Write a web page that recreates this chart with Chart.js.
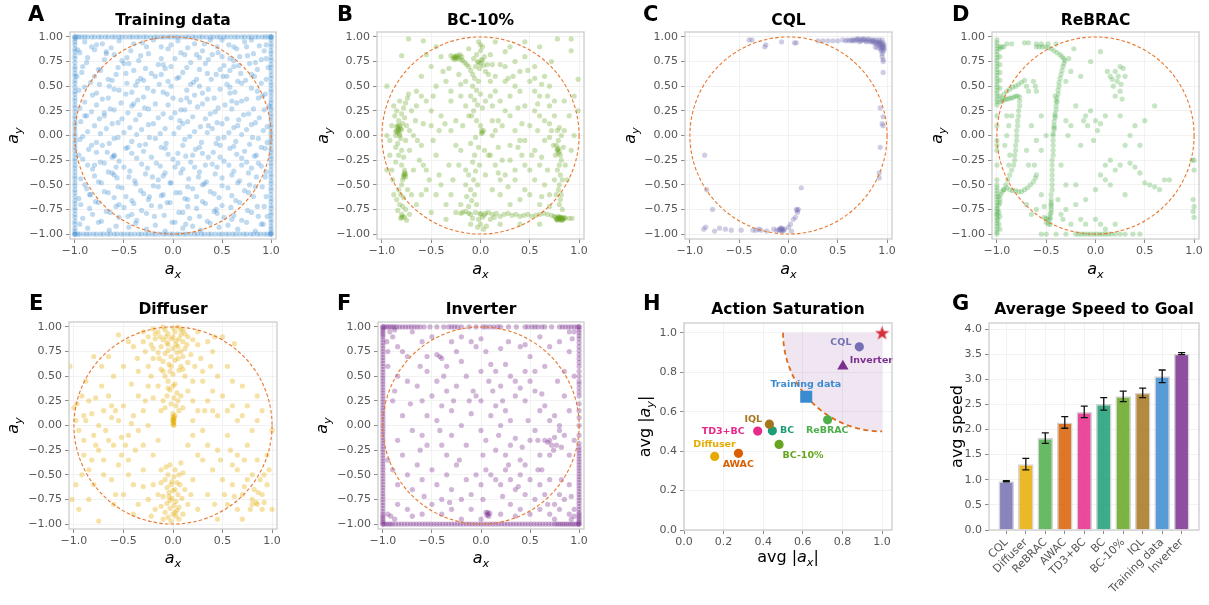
<!DOCTYPE html>
<html><head><meta charset="utf-8">
<script src="https://cdn.jsdelivr.net/npm/chart.js@4.4.1/dist/chart.umd.min.js"></script>
<style>
html,body{margin:0;padding:0;background:#fff;}
#wrap{position:relative;width:1209px;height:605px;overflow:hidden;background:#fff;}
#wrap canvas{position:absolute;left:0;top:0;}
</style></head><body><div id="wrap"></div>
<script>
// ---------------- DATA ----------------
// Panel A: Training data (flat x,y pairs) + saturated edges
const trainInterior = [-.9,.95,-.72,.93,-.55,.96,-.31,.94,-.12,.9,.05,.96,.22,.93,.38,.97,.57,.92,.73,.95,.88,.91,
-.95,.84,-.8,.87,-.6,.82,-.43,.86,-.25,.83,-.05,.88,.12,.82,.3,.86,.46,.84,.65,.88,.82,.83,.93,.86,
-.88,.74,-.7,.77,-.5,.73,-.35,.76,-.15,.72,.02,.78,.18,.74,.36,.77,.52,.71,.62,.76,.78,.73,.95,.78,
-.93,.64,-.76,.67,-.58,.62,-.4,.66,-.22,.63,-.08,.68,.1,.64,.27,.67,.44,.62,.58,.66,.69,.63,.86,.67,
-.84,.54,-.66,.57,-.47,.53,-.3,.56,-.14,.52,.04,.58,.21,.54,.39,.57,.55,.52,.74,.56,.9,.53,
-.96,.46,-.78,.43,-.6,.47,-.42,.44,-.26,.48,-.06,.42,.14,.46,.3,.43,.48,.47,.63,.44,.8,.48,.94,.42,
-.9,.34,-.72,.37,-.53,.33,-.36,.36,-.18,.32,0,.38,.17,.34,.35,.37,.53,.31,.7,.35,.87,.38,
-.83,.24,-.64,.27,-.46,.23,-.29,.28,-.1,.22,.08,.26,.25,.29,.43,.24,.6,.27,.77,.22,.93,.26,
-.94,.14,-.75,.17,-.56,.13,-.38,.16,-.2,.12,-.02,.18,.15,.14,.33,.17,.5,.12,.67,.16,.84,.13,
-.87,.04,-.68,.07,-.5,.03,-.32,.06,-.13,.02,.06,.08,.22,.04,.4,.07,.57,.03,.75,.06,.92,.05,
-.95,-.04,-.78,-.07,-.6,-.03,-.42,-.06,-.24,-.02,-.07,-.08,.12,-.04,.29,-.07,.46,-.03,.64,-.06,.81,-.02,.96,-.07,
-.86,-.14,-.67,-.17,-.48,-.13,-.3,-.16,-.12,-.12,.05,-.18,.23,-.14,.41,-.17,.58,-.13,.73,-.16,.9,-.12,
-.92,-.24,-.74,-.27,-.62,-.22,-.55,-.26,-.37,-.23,-.17,-.28,0,-.24,.18,-.27,.36,-.22,.52,-.26,.7,-.23,.87,-.28,
-.82,-.34,-.66,-.37,-.58,-.32,-.44,-.36,-.26,-.33,-.08,-.38,.1,-.34,.27,-.37,.45,-.32,.62,-.36,.8,-.33,.95,-.37,
-.94,-.44,-.76,-.47,-.57,-.43,-.39,-.46,-.21,-.42,-.03,-.48,.16,-.44,.34,-.47,.5,-.43,.68,-.46,.85,-.42,
-.88,-.54,-.7,-.57,-.52,-.53,-.33,-.56,-.15,-.52,.03,-.58,.2,-.54,.38,-.57,.56,-.53,.73,-.56,.91,-.52,
-.96,-.64,-.79,-.67,-.6,-.63,-.42,-.66,-.24,-.62,-.06,-.68,.12,-.64,.3,-.67,.47,-.63,.64,-.66,.82,-.62,
-.85,-.74,-.68,-.77,-.5,-.73,-.32,-.76,-.13,-.72,.06,-.78,.24,-.74,.42,-.77,.59,-.73,.76,-.76,.93,-.72,
-.92,-.84,-.73,-.87,-.55,-.83,-.37,-.86,-.19,-.82,-.01,-.88,.17,-.84,.35,-.87,.52,-.83,.7,-.86,.87,-.82,
-.87,-.94,-.65,-.96,-.45,-.93,-.27,-.95,-.08,-.97,.1,-.94,.28,-.96,.47,-.93,.66,-.95,.84,-.97,
-.83,.9,-.47,.79,-.02,.7,.45,.9,.68,.8,-.65,.5,-.18,.6,.27,.5,.83,.6,-.9,.2,-.42,.3,.07,.15,.6,.35,-.72,-.1,
-.34,-.1,.2,-.2,.7,-.3,.98,.3,-.6,-.4,-.1,-.6,.3,-.5,.78,-.5,-.42,-.8,.13,-.9,.6,-.85,.9,-.9,-.98,.6,.55,.6,
-.27,.9,.14,.38,-.55,-.7,.44,-.75,-.8,-.3,.24,.82,-.36,.55,.66,.1,.33,-.3,-.7,.2,.5,.8,-.15,-.45,.02,-.32,
.62,.7,-.6,-.2,.85,-.2,-.05,.55,.36,.1,-.25,-.65,.75,.9,-.68,.85,.15,-.65,.48,-.1,-.85,-.6];
const trainInterior2 = [-.97,.87,-.78,.92,-.63,.89,-.4,.93,-.2,.97,-.02,.92,.15,.89,.32,.93,.5,.97,.62,.9,.8,.97,.95,.92,
-.87,.79,-.68,.83,-.52,.76,-.33,.81,-.12,.78,.08,.84,.27,.79,.4,.82,.58,.78,.76,.81,.9,.77,
-.92,.7,-.74,.66,-.56,.69,-.45,.73,-.28,.68,-.1,.72,.14,.69,.33,.73,.48,.67,.67,.71,.84,.74,.97,.69,
-.8,.6,-.62,.56,-.48,.63,-.33,.58,-.12,.62,.06,.59,.24,.57,.35,.63,.51,.6,.66,.55,.8,.62,.95,.57,
-.9,.49,-.75,.52,-.55,.46,-.38,.51,-.2,.45,-.02,.5,.18,.52,.36,.47,.58,.49,.7,.53,.86,.45,
-.82,.41,-.66,.38,-.48,.42,-.3,.39,-.1,.44,.08,.36,.22,.41,.42,.38,.58,.43,.75,.37,.91,.4,
-.95,.28,-.78,.31,-.6,.26,-.4,.32,-.25,.27,-.05,.31,.12,.26,.3,.32,.46,.28,.65,.33,.82,.27,
-.88,.2,-.7,.23,-.52,.17,-.34,.21,-.15,.18,.02,.23,.2,.19,.38,.22,.55,.17,.72,.21,.88,.18,
-.8,.1,-.62,.12,-.44,.08,-.25,.11,-.08,.07,.1,.12,.28,.09,.45,.13,.62,.08,.8,.11,.96,.09,
-.92,-.01,-.74,.02,-.56,-.02,-.37,.01,-.18,-.03,.01,.02,.17,-.01,.35,.03,.52,-.02,.7,.01,.87,-.03,
-.83,-.1,-.65,-.08,-.46,-.12,-.28,-.09,-.08,-.13,.1,-.1,.27,-.12,.44,-.08,.62,-.11,.78,-.09,.94,-.13,
-.96,-.2,-.78,-.17,-.6,-.21,-.42,-.18,-.22,-.22,-.05,-.19,.13,-.21,.3,-.18,.48,-.22,.65,-.19,.83,-.21,
-.87,-.3,-.7,-.28,-.5,-.32,-.32,-.29,-.13,-.31,.05,-.28,.22,-.32,.4,-.29,.57,-.3,.75,-.27,.9,-.31,
-.8,-.41,-.62,-.38,-.45,-.42,-.28,-.39,-.1,-.41,.08,-.38,.26,-.42,.43,-.39,.6,-.4,.77,-.38,.94,-.42,
-.9,-.5,-.73,-.48,-.56,-.52,-.38,-.49,-.2,-.51,-.02,-.48,.15,-.52,.32,-.49,.5,-.51,.66,-.48,.84,-.52,
-.84,-.6,-.66,-.58,-.48,-.62,-.3,-.59,-.12,-.61,.07,-.58,.24,-.62,.42,-.59,.6,-.61,.77,-.58,.95,-.62,
-.94,-.7,-.76,-.68,-.58,-.72,-.4,-.69,-.22,-.71,-.03,-.68,.15,-.72,.33,-.69,.5,-.71,.68,-.68,.86,-.72,
-.82,-.8,-.64,-.78,-.46,-.82,-.27,-.79,-.09,-.81,.1,-.78,.27,-.82,.45,-.79,.62,-.81,.8,-.78,.96,-.82,
-.95,-.9,-.76,-.88,-.58,-.92,-.38,-.89,-.18,-.91,.02,-.88,.2,-.92,.38,-.89,.56,-.91,.75,-.88,.92,-.9];
const trainTopX = [-1,-.98,-.96,-.93,-.9,-.87,-.83,-.8,-.76,-.73,-.69,-.66,-.62,-.59,-.55,-.52,-.48,-.44,-.41,-.37,-.34,-.3,-.27,-.23,-.19,-.16,-.12,-.09,-.05,-.02,.02,.05,.09,.13,.16,.2,.23,.27,.3,.34,.38,.41,.45,.48,.52,.55,.59,.63,.66,.7,.73,.77,.8,.84,.87,.91,.94,.97,1,1];
const trainBottomX = [-1,-1,-.97,-.95,-.91,-.88,-.85,-.81,-.78,-.74,-.71,-.67,-.64,-.6,-.57,-.53,-.5,-.46,-.43,-.39,-.35,-.32,-.28,-.25,-.21,-.18,-.14,-.1,-.07,-.03,0,.04,.07,.11,.14,.18,.22,.25,.29,.32,.36,.39,.43,.47,.5,.54,.57,.61,.64,.68,.72,.75,.79,.82,.86,.89,.93,.96,.99,1];
const trainLeftY = [-1,-.97,-.94,-.9,-.87,-.83,-.8,-.76,-.73,-.69,-.66,-.62,-.58,-.55,-.51,-.48,-.44,-.41,-.37,-.33,-.3,-.26,-.23,-.19,-.15,-.12,-.08,-.05,-.01,.02,.06,.1,.13,.17,.2,.24,.28,.31,.35,.38,.42,.45,.49,.53,.56,.6,.63,.67,.7,.74,.78,.81,.85,.88,.92,.95,.98,1];
const trainRightY = [-1,-.98,-.95,-.92,-.88,-.85,-.81,-.78,-.74,-.71,-.67,-.64,-.6,-.56,-.53,-.49,-.46,-.42,-.39,-.35,-.31,-.28,-.24,-.21,-.17,-.14,-.1,-.06,-.03,.01,.04,.08,.11,.15,.19,.22,.26,.29,.33,.36,.4,.44,.47,.51,.54,.58,.61,.65,.69,.72,.76,.79,.83,.86,.9,.93,.97,1];

// Panel B: BC-10%
const bc10Points = [-.85,.05,-.83,.08,-.82,.02,-.8,.06,-.84,.1,-.86,0,-.81,-.03,-.79,.12,-.83,.15,-.87,.2,-.8,.22,-.78,.28,-.76,.33,-.74,.38,-.73,.42,
-.85,.25,-.88,.3,-.82,.35,-.77,.18,-.75,.1,-.72,.05,-.76,-.05,-.84,-.08,-.86,-.12,-.8,-.15,-.83,-.2,-.78,-.22,-.86,-.27,-.8,-.3,-.77,-.35,
-.78,-.4,-.76,-.42,-.77,-.38,-.79,-.45,-.8,-.5,-.83,-.55,-.81,-.6,-.78,-.63,-.85,-.65,-.82,-.7,-.79,-.72,-.76,-.75,-.84,-.76,-.8,-.8,-.79,-.82,
-.81,-.84,-.77,-.83,-.75,-.86,-.9,-.35,-.88,-.6,-.7,-.6,-.72,-.15,-.68,0,-.9,.1,-.92,-.05,-.7,.25,-.66,.15,-.64,-.05,-.89,-.45,-.74,-.55,-.72,-.8,
-.83,.05,-.81,.07,-.84,.03,-.82,0,-.85,.09,-.83,.06,-.86,.04,-.82,.1,-.77,-.4,-.78,-.42,-.76,-.39,-.8,-.83,
-.27,.8,-.25,.79,-.23,.78,-.26,.77,-.24,.81,-.28,.78,-.22,.8,-.2,.77,-.18,.76,-.3,.81,-.21,.82,-.19,.8,-.16,.74,-.14,.72,-.25,.8,-.26,.79,
-.03,.75,0,.73,.02,.76,-.05,.7,-.01,.68,.03,.71,.05,.65,-.07,.78,-.04,.82,0,.86,.02,.9,-.02,.95,0,.92,.04,.8,-.1,.66,-.08,.62,-.12,.7,.07,.72,-.02,.74,.01,.77,
-.06,.58,-.02,.55,-.08,.5,-.04,.46,0,.42,-.1,.4,-.06,.36,-.03,.31,.02,.28,-.07,.25,-.09,.2,-.04,.15,0,.1,.03,.05,.01,.02,-.05,-.02,-.1,-.08,-.02,-.12,
.04,-.15,-.06,-.2,-.08,-.27,-.01,-.3,-.05,-.36,-.12,-.4,-.07,-.45,-.03,-.5,-.1,-.55,-.06,-.6,-.14,-.62,-.09,-.66,-.04,-.7,-.12,-.72,-.15,-.5,.05,-.4,
.08,-.2,.1,.4,.15,.45,.12,.3,-.15,.3,-.2,.4,-.18,.1,.12,0,.18,.15,-.22,-.3,.2,-.45,.01,.05,.02,.03,
-.25,-.78,-.2,-.79,-.15,-.77,-.1,-.8,-.05,-.78,0,-.79,.04,-.81,.08,-.78,.12,-.8,.16,-.79,.2,-.82,.24,-.8,.28,-.79,.32,-.81,.36,-.8,.4,-.82,.44,-.81,
.48,-.8,.52,-.82,.56,-.81,.6,-.8,.64,-.79,.68,-.8,.72,-.81,.02,-.83,-.08,-.84,.1,-.85,.14,-.83,-.02,-.85,0,-.9,.03,-.95,-.03,-.93,.06,-.92,-.1,-.9,
-.18,-.78,-.12,-.79,0,-.8,.05,-.79,
.76,-.83,.78,-.84,.8,-.85,.82,-.84,.84,-.85,.79,-.82,.81,-.83,.83,-.86,.77,-.85,.85,-.83,.8,-.84,.82,-.86,.78,-.86,.86,-.84,.75,-.82,.9,-.84,.93,-.84,
.79,-.84,.81,-.85,.83,-.84,.8,-.83,.84,-.84,.78,-.85,.82,-.83,
.8,.08,.78,.05,.82,0,.79,-.05,.77,-.1,.78,-.14,.8,-.16,.79,-.18,.81,-.2,.82,-.25,.8,-.3,.78,-.35,.81,-.4,.83,-.45,.8,-.5,.79,-.55,.82,-.6,.81,-.65,
.8,-.7,.83,-.75,.76,-.2,.74,-.1,.85,.05,.84,-.12,.86,-.3,.75,-.45,.77,-.6,.72,.05,.7,-.02,.78,-.15,.79,-.13,
-.73,.98,-.8,.81,-.58,.96,-.95,.5,.78,.98,.92,.98,.92,.86,.99,.57,.99,.25,-.95,-.35,
-.6,.6,-.5,.7,-.45,.5,-.55,.35,-.4,.2,-.5,.1,-.6,-.1,-.45,-.2,-.55,-.35,-.4,-.5,-.6,-.6,-.35,-.7,-.5,-.78,-.3,-.6,-.35,.55,-.3,.35,-.3,.05,-.25,-.1,
-.32,-.3,.3,.9,.35,.75,.25,.7,.45,.8,.55,.7,.65,.6,.5,.55,.4,.45,.3,.4,.25,.25,.45,.3,.55,.25,.6,.4,.7,.3,.75,.2,.65,.15,.5,.1,.35,.05,.3,-.1,
.45,-.05,.55,-.15,.6,-.3,.45,-.3,.35,-.45,.55,-.45,.65,-.5,.5,-.6,.4,-.65,.3,-.7,.6,-.7,.7,-.6,.65,-.05,.2,-.6,.15,-.3,.25,.55,.15,.6,-.15,.55,
-.4,.8,-.45,.9,.15,.95,.45,.95,.6,.9,.7,.5,.85,.35,.9,.2,.95,0,.92,-.15,.88,-.45,.95,.4,-.95,0,-.92,-.2,-.6,.4,-.65,.3,-.2,-.7,-.35,-.85,.2,-.9,
.4,-.9,.6,-.9,-.5,.25,-.15,-.35,.22,.1,.3,.2,-.25,.15,.1,.55,.12,-.55,.25,-.4,.4,.65,.55,.45,.62,-.22,-.58,.12,-.42,-.4,-.62,-.25,-.22,.62,.33,.6,.72,.75,
-.36,.12,-.48,-.05,.18,-.12,.38,.28,.42,-.2,.58,.05,.68,-.35,.5,-.35,-.38,.65,.08,.62,.2,.72,-.12,.2,.12,.15,
-.55,.82,-.32,.68,-.12,.88,.1,.82,.28,.58,.48,.66,.62,.52,.42,.12,.52,-.2,.38,-.12,.62,-.62,.7,-.72,.45,-.55,.28,-.52,.18,-.38,.1,-.2,.22,-.25,
-.2,-.15,-.28,-.45,-.45,-.6,-.52,-.45,-.65,-.7,-.55,-.55,-.65,.45,-.48,.4,-.42,.05,-.68,-.35,-.58,-.3,.3,-.25,.35,-.35,.4,-.05,.2,.35,.35,.5,
.58,.32,.68,.4,.75,.35,.7,.12,.6,.2,.55,.58,-.2,.52,-.3,.45,.12,.72,.25,.85,.05,.35,.15,.05];

// Panel C: CQL
const cqlPoints = [.55,.97,.58,.96,.6,.97,.62,.96,.64,.97,.66,.97,.68,.96,.7,.97,.71,.98,.73,.97,.74,.96,.76,.97,.77,.98,.78,.96,.8,.97,.81,.98,.82,.96,
.84,.97,.85,.95,.86,.96,.87,.94,.88,.95,.89,.93,.9,.95,.91,.92,.92,.94,.93,.91,.94,.93,.95,.9,.95,.88,.96,.91,.94,.86,.96,.85,.95,.83,.97,.92,.96,.94,
.93,.95,.95,.8,.96,.77,.96,.75,.95,.97,.92,.97,.89,.97,.72,.95,.79,.95,.83,.95,.88,.9,.9,.89,.93,.88,.97,.89,.97,.87,.94,.9,.95,.92,.93,.93,.96,.89,
.91,.94,.86,.97,.75,.98,.65,.96,.69,.98,.96,.64,.93,.28,.96,.19,.95,.12,.96,.1,.93,-.12,.92,-.38,.92,-.43,
-.4,.97,-.37,.97,-.24,.9,-.23,.92,-.07,.95,.06,.94,.08,.94,.3,.96,.35,.96,.4,.96,.45,.96,.5,.96,
-.85,-.2,-.83,-.55,-.77,-.75,-.86,-.95,-.84,-.93,-.75,-.97,-.7,-.94,-.64,-.95,-.58,-.96,-.48,-.96,-.36,-.96,-.33,-.96,-.28,-.96,-.22,-.97,-.15,-.95,
-.09,-.95,-.08,-.96,-.07,-.94,-.06,-.95,-.05,-.96,-.08,-.94,-.06,-.97,-.1,-.96,-.04,-.95,-.07,-.96,0,-.93,.02,-.9,.05,-.85,.07,-.83,.09,-.78,.1,-.75,
.08,-.75,.09,-.76,.13,-.53,.03,-.97,-.12,-.96,-.3,-.95];

// Panel D: ReBRAC
const rebracPoints = [-1,.97,-1,.94,-1,.91,-1,.88,-1,.85,-1,.82,-1,.79,-1,.76,-1,.73,-1,.7,-1,.67,-1,.64,-1,.61,-1,.58,-1,.55,-1,.52,-1,.49,-1,.46,
-1,.43,-1,.4,-1,.37,-1,.34,-1,.31,-1,.2,-1,.1,-1,-.05,-1,-.1,-1,-.15,-1,-.3,-1,-.45,-1,-.5,-1,-.53,-1,-.56,-1,-.59,-1,-.62,-1,-.65,-1,-.68,
-1,-.71,-1,-.74,-1,-.77,-1,-.8,-1,-.83,-1,-.86,-1,-.89,-1,-.92,-1,-.95,-1,-.98,-1,-1,
-.97,.88,-.97,.8,-.97,.72,-.97,.64,-.97,.56,-.97,.48,-.97,.4,-.97,.9,-.95,.9,-.93,.9,-.9,.93,-.85,.93,-.72,.94,-.68,.94,-.6,.93,-.55,.93,-.48,.93,-.4,.93,
-.6,.9,-.57,.9,-.54,.9,-.51,.9,-.48,.89,-.45,.88,-.42,.86,-.39,.84,-.36,.82,-.34,.8,-.32,.78,-.31,.76,-.32,.73,-.33,.7,-.34,.66,-.35,.62,-.36,.58,
-.37,.54,-.37,.5,-.38,.46,-.38,.42,-.39,.38,-.39,.34,-.4,.3,-.4,.26,-.41,.22,-.41,.18,-.42,.14,-.42,.1,-.42,.06,-.43,.02,-.43,0,-.43,-.05,-.43,-.1,
-.43,-.15,-.43,-.2,-.44,-.25,-.44,-.3,-.44,-.35,-.44,-.4,-.44,-.45,-.44,-.5,-.44,-.55,-.45,-.6,-.45,-.65,-.45,-.7,-.45,-.75,-.46,-.8,-.46,-.85,-.46,-.9,
-.45,-.68,-.45,-.72,-.45,-.78,-.46,-.83,-.48,-.85,-.5,-.84,-.52,-.83,-.5,-.88,-.48,-.9,-.41,.4,-.4,.35,-.41,.2,-.42,.08,
-.97,.34,-.95,.35,-.93,.36,-.91,.37,-.89,.37,-.87,.38,-.85,.38,-.83,.39,-.81,.4,-.79,.4,-.77,.39,-.77,.35,-.77,.3,-.78,.25,-.78,.2,-.79,.15,
-.79,.1,-.8,.05,-.8,0,-.8,-.05,-.81,-.1,-.81,-.15,-.82,-.2,-.82,-.25,-.83,-.3,-.85,-.35,-.87,-.4,-.89,-.45,-.91,-.5,-.93,-.55,
-.95,.38,-.93,.42,-.9,.45,-.87,.47,-.84,.49,-.81,.5,-.78,.52,-.75,.54,-.72,.56,-.7,.5,-.68,.45,-.63,.55,-.61,.5,-.6,.45,
-1,-.8,-.99,-.75,-.98,-.7,-.97,-.65,-.96,-.6,-.95,-.57,-.93,-.55,-.9,-.53,-.87,-.55,-.84,-.56,-.81,-.56,-.78,-.57,-.75,-.57,-.72,-.55,-.69,-.53,
-.66,-.5,-.63,-.47,-.61,-.43,-.6,-.4,-.99,-.85,-.98,-.9,-.97,-.95,-.98,-.62,-.97,-.68,-.98,-.78,-.97,-.82,
-.55,-1,-.5,-1,-.4,-1,-.3,-1,-.2,-1,-.17,-1,-.14,-1,-.11,-1,-.08,-1,-.05,-1,-.02,-1,.01,-1,.04,-1,.07,-1,.1,-1,.13,-1,.16,-1,.2,-1,.25,-1,.3,-1,.38,-1,.45,-1,
.15,.6,.2,.65,.25,.7,.28,.68,.22,.55,.18,.5,.25,.45,.2,.4,.27,.37,.3,.6,.12,.65,.05,.85,-.05,.75,-.15,.6,-.1,.2,-.05,.25,0,.15,.05,.12,-.08,.1,
-.12,.15,.1,.2,.02,.05,-.2,.3,-.25,.1,-.15,-.1,-.02,-.05,.1,-.3,.15,-.25,.2,-.35,.05,-.4,.1,-.45,.15,-.5,.25,-.3,.35,-.28,.4,-.32,.45,-.38,.5,-.48,
.55,-.5,.6,-.52,.65,-.55,.7,-.45,.75,-.45,.3,-.6,0,-.55,-.1,-.65,-.2,-.7,-.3,-.75,-.35,-.8,-.15,-.85,-.1,-.9,0,-.85,.05,-.9,.1,-.95,.2,-.9,-.25,-.9,
.98,-.25,1,-.35,1,-.25,.99,-.65,1,-.72,.99,-.77,1,-.83,-.55,-.15,-.6,-.05,-.65,.1,-.55,.2,-.5,0,-.62,-.3,-.55,-.6,-.52,-.72,-.6,-.75,-.65,-.8,-.7,-.7,
-.7,-.15,-.68,-.3,-.9,0,-.92,-.1,-.88,.1,-.9,.2,-.85,.2,-.87,-.2,-.88,-.3,-.3,.15,-.28,0,-.35,-.3,-.3,-.5,-.38,-.65,-.33,-.85,-.22,.88,-.27,.78,
-.25,.65,-.3,.55,-.2,-.5,.35,0,.4,.1,.25,.2,.6,.3,.5,.15,.45,-.1,.3,-.1,.23,.6,.17,.57,.26,.52];

// Panel E: Diffuser
const diffuserPoints = [-.2,.98,-.1,1,0,.99,.05,1,.1,.97,-.15,.95,-.05,.93,.02,.95,.08,.92,.15,.9,-.25,.9,-.18,.88,-.1,.87,-.02,.88,.03,.86,.1,.85,.2,.87,
-.3,.85,-.22,.82,-.12,.8,-.05,.82,0,.78,.05,.8,.12,.78,.25,.82,-.28,.75,-.15,.74,-.08,.73,-.02,.7,.04,.74,.1,.7,.18,.72,-.2,.68,-.1,.65,-.04,.62,
.02,.66,.08,.6,.15,.64,-.25,.6,-.12,.57,-.03,.55,0,.52,.06,.56,-.08,.5,.12,.5,-.35,.55,.3,.55,-.3,.95,.25,.95,.35,.85,-.4,.8,.4,.75,.28,.68,-.36,.68,
-.05,.45,.02,.42,0,.4,-.03,.36,.04,.33,-.06,.3,.01,.28,.05,.25,-.02,.22,.03,.2,-.08,.18,.06,.15,0,.12,.02,.1,.01,.08,0,.06,.01,.04,0,.02,.01,0,0,.05,
.01,.07,0,.09,.005,.03,.005,.01,.005,.06,-.15,.4,.15,.35,-.2,.28,.2,.25,-.12,.15,.1,.18,-.06,.84,0,.9,.06,.88,-.13,.9,.12,.93,-.08,.97,.03,.82,
-.03,-.4,.02,-.45,-.05,-.5,.01,-.52,-.08,-.55,.04,-.58,-.02,-.6,-.06,-.63,.02,-.65,-.04,-.68,.05,-.7,-.1,-.72,-.01,-.74,.03,-.77,-.06,-.79,.01,-.81,
-.03,-.84,.04,-.86,-.08,-.88,0,-.9,-.05,-.93,.06,-.95,-.02,-.97,-.15,-.7,.12,-.65,-.2,-.6,.15,-.8,-.18,-.85,.1,-.9,-.25,-.75,.2,-.55,-.12,-.45,.1,-.48,
.08,-.38,-.01,-.57,0,-.66,-.03,-.76,.02,-.88,
-1.04,.6,-1,.18,-.98,.05,-.95,-.05,-.9,.1,-.85,.25,-.8,-.1,-.75,0,-.7,.15,-.65,.3,-.6,-.2,-.55,.05,-.5,.2,-.45,-.1,-.4,.1,-.35,.3,-.3,-.2,-.25,0,
-.9,-.3,-.85,-.45,-.8,-.6,-.75,-.25,-.7,-.35,-.62,-.55,-.55,-.4,-.5,-.7,-.45,-.35,-.4,-.6,-.35,-.8,-.3,-.45,-.98,-.6,-1.02,-.75,-.95,-.85,-.75,-.97,
-.6,-.8,-.92,.3,-.72,.4,-.6,.5,-.5,.6,-.45,.85,-.55,.92,-.8,.7,-.65,.7,-.25,.4,-.3,.15,-.2,-.3,-.15,-.15,-.9,-.15,-.68,-.05,-.82,.12,-.58,.15,-.48,-.2,
-.38,-.25,-.28,.25,-.35,-.05,-.97,.22,-.88,.05,-.78,.28,-.62,.08,-.52,-.12,-.42,.02,
.2,.05,.3,-.05,.4,.15,.5,.3,.6,.2,.7,.1,.8,-.05,.9,.15,1,-.05,.35,-.2,.45,-.25,.55,-.1,.65,-.3,.75,-.2,.85,-.35,.95,-.3,.3,-.35,.4,-.45,.5,-.55,
.6,-.6,.7,-.7,.8,-.75,.85,-.8,.9,-.85,.95,-.6,1,-.85,.82,-.65,.9,-.7,.75,-.55,.65,-.85,.55,-.8,.45,-.95,.35,-.7,.25,-.3,.3,.45,.45,.5,.55,.6,.62,.83,
.5,.9,.4,.35,.6,.45,.7,.4,.75,.2,.85,.3,.25,.15,.35,.25,.15,-.2,.2,-.1,.88,-.55,.78,-.85,.7,-.95,.97,-.45,.6,-.4,.8,-.8,.84,-.78,.92,-.78,.86,-.68,
-.18,.93,.08,.97,-.07,.9,.14,.82,-.2,.78,-.05,.76,.08,.75,-.14,.68,.05,.68,-.02,.6,.1,.57,-.1,.55,-.22,.5,.2,.45,-.05,.38,.08,.3,-.1,.25,
-.07,-.42,.06,-.5,-.12,-.58,.07,-.6,-.04,-.72,.09,-.74,-.12,-.82,.06,-.83,-.1,-.95,.03,-.92,-.22,-.92,.18,-.7,-.3,-.62,.25,-.85,
-.72,.6,-.88,.45,-.62,.2,-.42,.42,-.78,-.2,-.52,-.3,-.65,-.15,-.82,-.35,-.7,-.5,-.45,-.5,-.92,-.5,-.58,-.7,-.85,-.75,-.4,-.9,
.45,.1,.55,.15,.65,.05,.85,.05,.48,-.35,.58,-.25,.72,-.35,.8,-.5,.92,-.5,.65,-.45,.52,-.7,.42,-.8,.62,-.72,.72,-.62,.38,.6,.22,.6,.42,.9,.32,.15];

// Panel F: Inverter
const inverterInterior = [-.9,.9,-.85,.8,-.7,.95,-.6,.85,-.5,.9,-.45,.72,-.42,.7,-.4,.68,-.35,.6,-.3,.85,-.2,.9,-.1,.85,-.05,.8,.05,.75,.1,.62,.15,.55,
.2,.78,.25,.62,.3,.5,.35,.45,.4,.38,.45,.55,.5,.7,.6,.9,.7,.8,.8,.85,.9,.75,.95,.95,
-.95,.6,-.85,.5,-.75,.45,-.65,.4,-.55,.55,-.5,.3,-.45,.45,-.4,.2,-.35,.35,-.25,.4,-.15,.5,-.08,.35,-.05,.3,0,.25,.1,.1,.15,.2,.2,0,.25,.15,.3,.05,
.35,.3,.45,.25,.55,.35,.6,.15,.65,.2,.7,.05,.75,.1,.8,0,.85,.3,.9,.15,
-.9,.25,-.8,.1,-.7,-.05,-.6,-.1,-.55,.1,-.45,.05,-.4,-.2,-.35,-.3,-.3,-.1,-.2,0,-.15,-.2,-.1,.12,0,-.05,.05,-.15,.15,-.25,.25,-.3,.3,-.2,.35,-.13,
.4,-.35,.5,-.15,.55,-.05,.65,-.15,.68,-.17,.7,-.15,.72,-.2,.74,-.25,.7,-.3,.75,-.12,.8,-.05,.77,-.2,.85,-.1,.9,-.3,
-.95,-.35,-.9,-.45,-.8,-.3,-.75,-.5,-.7,-.65,-.65,-.4,-.6,-.55,-.5,-.45,-.45,-.6,-.4,-.75,-.35,-.5,-.3,-.65,-.25,-.4,-.2,-.75,-.15,-.55,-.1,-.7,
-.05,-.5,0,-.6,.05,-.45,.1,-.5,.15,-.55,.2,-.6,.25,-.45,.3,-.55,.35,-.65,.4,-.5,.45,-.7,.5,-.55,.55,-.75,.6,-.6,.65,-.7,.7,-.55,.75,-.8,.8,-.7,
.85,-.75,.9,-.6,.95,-.85,
-.85,-.8,-.75,-.85,-.6,-.9,-.5,-.8,-.4,-.9,-.3,-.85,-.2,-.95,-.1,-.85,0,-.95,.05,-.88,.07,-.9,.08,-.92,.06,-.91,.09,-.89,.07,-.88,.2,-.9,.3,-.8,.4,-.85,
.5,-.9,.6,-.85,.7,-.9,.8,-.85,.9,-.9,-.6,.25,-.2,.65,0,.55,.4,.8,.55,.55,.85,.55,-.75,.7,-.3,.15,.45,-.4,.2,.4,-.55,-.2,.6,-.3,
-.93,.95,-.96,.85,-.88,.97,-.95,.75,-.92,-.92,-.88,-.95,-.95,-.9,.92,-.95,.95,-.92,.9,.95,.93,.88,-.62,.6,-.28,.25,.12,.35,.5,.45,.62,-.45,.28,-.4,
-.8,.75,-.55,.7,-.25,.75,.0,.88,.28,.85,.45,.82,.65,.6,.78,.45,.95,.5,-.88,.35,-.72,.22,-.38,.5,-.12,.25,.08,.45,.22,.25,.48,.05,.62,.32,
-.85,-.15,-.62,-.25,-.42,-.05,-.22,-.35,.02,-.3,.18,-.1,.42,-.22,.58,-.15,.82,-.22,.95,-.15,-.85,-.6,-.58,-.72,-.32,-.78,.02,-.75,.22,-.72,
.38,-.62,.58,-.45,.82,-.55,.92,-.72,.68,-.8,-.7,-.92,.35,-.92,.75,-.95];
const inverterTopX = [-1,-.98,-.96,-.94,-.92,-.9,-.88,-.86,-.83,-.8,-.77,-.74,-.71,-.68,-.65,-.62,-.58,-.52,-.45,-.38,-.33,-.3,-.27,-.24,-.2,-.12,-.05,.02,.05,.09,.13,.17,.2,.28,.36,.45,.48,.52,.55,.58,.62,.65,.72,.8,.83,.86,.89,.92,.95,.98,1];
const inverterBottomX = [-1,-.98,-.96,-.94,-.92,-.9,-.87,-.84,-.81,-.78,-.75,-.72,-.69,-.66,-.63,-.6,-.57,-.54,-.51,-.48,-.45,-.42,-.39,-.36,-.33,-.3,-.27,-.24,-.21,-.18,-.15,-.12,-.09,-.06,-.03,0,.03,.06,.09,.12,.15,.18,.21,.24,.27,.3,.33,.36,.39,.42,.45,.48,.51,.54,.57,.6,.63,.66,.69,.72,.75,.77,.79,.81,.83,.85,.87,.89,.91,.93,.95,.97,.99,1];
const inverterLeftY = [-1,-.98,-.96,-.94,-.92,-.9,-.87,-.84,-.81,-.78,-.75,-.72,-.69,-.66,-.63,-.6,-.57,-.54,-.51,-.48,-.45,-.42,-.39,-.36,-.33,-.3,-.27,-.24,-.21,-.18,-.15,-.12,-.09,-.06,-.03,0,.03,.06,.09,.12,.15,.18,.21,.24,.27,.3,.33,.36,.39,.42,.45,.48,.51,.54,.57,.6,.63,.66,.69,.72,.75,.78,.81,.84,.87,.9,.92,.94,.96,.98,1];
const inverterRightY = [-1,-.98,-.96,-.94,-.92,-.9,-.88,-.85,-.82,-.79,-.76,-.73,-.7,-.67,-.64,-.61,-.58,-.55,-.52,-.49,-.46,-.43,-.4,-.37,-.34,-.31,-.28,-.25,-.22,-.18,-.1,0,.08,.15,.22,.3,.34,.38,.42,.45,.5,.55,.6,.64,.68,.72,.76,.8,.84,.88,.91,.94,.97,1];

// Panel H: Action saturation (avg |a_x|, avg |a_y|)
const satMethods = ['CQL','Inverter','Training data','ReBRAC','IQL','BC','TD3+BC','BC-10%','AWAC','Diffuser'];
const satAvgX = [0.885,0.802,0.617,0.725,0.431,0.446,0.372,0.480,0.275,0.155];
const satAvgY = [0.929,0.831,0.676,0.559,0.537,0.503,0.502,0.434,0.389,0.373];
const idealPoint = [1.0, 1.0];

// Panel G: Average speed to goal
const speedMethods = ['CQL','Diffuser','ReBRAC','AWAC','TD3+BC','BC','BC-10%','IQL','Training data','Inverter'];
const speedMean = [0.97,1.31,1.83,2.14,2.35,2.51,2.66,2.73,3.06,3.51];
const speedErr = [0.01,0.115,0.105,0.115,0.115,0.125,0.105,0.095,0.125,0.02];

// ---------------- STYLE ----------------
const FONT = '"DejaVu Sans", "Liberation Sans", sans-serif';
const COLORS = {'CQL':'#7570b3','Diffuser':'#e6ab02','ReBRAC':'#4daf4a','AWAC':'#d95f02','TD3+BC':'#e7298a','BC':'#1b9e77',
 'BC-10%':'#66a61e','IQL':'#a6761d','Training data':'#3b8bd0','Inverter':'#7b2f8e'};
function rgba(hex,a){const n=parseInt(hex.slice(1),16);return `rgba(${n>>16},${(n>>8)&255},${n&255},${a})`;}
function pairs(a){const o=[];for(let i=0;i<a.length;i+=2)o.push({x:a[i],y:a[i+1]});return o;}
function atY(xs,y){return xs.map(x=>({x,y}));}
function atX(ys,x){return ys.map(y=>({x,y}));}
function fmt(v,d){return (v<0?'\u2212':'')+Math.abs(v).toFixed(d);}
const wrap=document.getElementById('wrap');
function newCanvas(){const c=document.createElement('canvas');c.width=1209;c.height=605;wrap.appendChild(c);return c;}

function drawParts(ctx,parts,cx,y,size){
  const f={n:size+'px '+FONT,i:'italic '+size+'px '+FONT,s:'italic '+(size*0.7)+'px '+FONT};
  let w=0;for(const p of parts){ctx.font=f[p[1]];w+=ctx.measureText(p[0]).width;}
  let x=cx-w/2;ctx.textAlign='left';ctx.textBaseline='alphabetic';ctx.fillStyle='#000';
  for(const p of parts){ctx.font=f[p[1]];ctx.fillText(p[0],x,y+(p[1]==='s'?size*0.22:0));x+=ctx.measureText(p[0]).width;}
}
const decoPlugin={id:'deco',afterDraw(chart,args,o){
  const ctx=chart.ctx,a=chart.chartArea;ctx.save();
  ctx.strokeStyle='#cccccc';ctx.lineWidth=1.3;ctx.setLineDash([]);
  ctx.strokeRect(a.left,a.top,a.right-a.left,a.bottom-a.top);
  ctx.fillStyle='#000';ctx.textBaseline='alphabetic';
  ctx.font='bold 15.5px '+FONT;ctx.textAlign='center';ctx.fillText(o.title,(a.left+a.right)/2,o.titleY);
  ctx.font='bold 21px '+FONT;ctx.textAlign='left';ctx.fillText(o.letter,o.letterX,o.letterY);
  drawParts(ctx,o.xlab,(a.left+a.right)/2,o.xlabY,16);
  ctx.translate(o.ylabX,(a.top+a.bottom)/2);ctx.rotate(-Math.PI/2);
  drawParts(ctx,o.ylab,0,0,16);
  ctx.restore();
}};
const circlePlugin={id:'unitCircle',afterDatasetsDraw(chart){
  const xs=chart.scales.x,ys=chart.scales.y,ctx=chart.ctx;
  const cx=xs.getPixelForValue(0),cy=ys.getPixelForValue(0);
  const rx=xs.getPixelForValue(1)-cx,ry=cy-ys.getPixelForValue(1);
  ctx.save();ctx.strokeStyle='#e8772e';ctx.lineWidth=1.1;ctx.setLineDash([3.5,2.2]);
  ctx.beginPath();ctx.ellipse(cx,cy,rx,ry,0,0,Math.PI*2);ctx.stroke();ctx.restore();
}};

const YW=55;
function axisCommon(){return {
  grid:{color:'#efefef',lineWidth:0.8,tickColor:'#8a8a8a',tickLength:4,tickWidth:1},
  border:{display:false},
  ticks:{color:'#555',font:{family:FONT,size:11},maxRotation:0,minRotation:0,autoSkip:false}
};}
function layoutFor(r,xh){return {padding:{left:r[0]-YW,top:r[1],right:1209-r[2],bottom:605-r[3]-xh}};}

function scatterPanel(rect,color,alpha,points,deco){
  const XH=30;
  const xa=axisCommon(),ya=axisCommon();
  Object.assign(xa,{type:'linear',min:-1.05,max:1.05,afterFit(s){s.height=XH;},
    afterBuildTicks(s){s.ticks=[-1,-.5,0,.5,1].map(v=>({value:v}));}});
  xa.ticks.callback=v=>fmt(v,1);xa.ticks.padding=2;
  Object.assign(ya,{type:'linear',min:-1.05,max:1.05,afterFit(s){s.width=YW;},
    afterBuildTicks(s){s.ticks=[-1,-.75,-.5,-.25,0,.25,.5,.75,1].map(v=>({value:v}));}});
  ya.ticks.callback=v=>fmt(v,2);ya.ticks.padding=3;
  new Chart(newCanvas(),{type:'scatter',
    data:{datasets:[{data:points,backgroundColor:rgba(color,alpha),borderWidth:0,pointRadius:2.6,pointHoverRadius:2.6}]},
    options:{responsive:false,animation:false,events:[],layout:layoutFor(rect,XH),
      plugins:{legend:{display:false},tooltip:{enabled:false},deco:deco},
      scales:{x:xa,y:ya}},
    plugins:[circlePlugin,decoPlugin]});
}
const XL=[['a','i'],['x','s']], YL=[['a','i'],['y','s']];

scatterPanel([70,32,276,239],COLORS['Training data'],0.32,
  pairs(trainInterior).concat(pairs(trainInterior2),atY(trainTopX,1),atY(trainBottomX,-1),atX(trainLeftY,-1),atX(trainRightY,1)),
  {title:'Training data',titleY:25,letter:'A',letterX:28,letterY:20.5,xlab:XL,xlabY:274,ylab:YL,ylabX:18});
scatterPanel([377,32,584,239],COLORS['BC-10%'],0.32,pairs(bc10Points),
  {title:'BC-10%',titleY:25,letter:'B',letterX:337,letterY:20.5,xlab:XL,xlabY:274,ylab:YL,ylabX:328});
scatterPanel([685,32,892,239],COLORS['CQL'],0.35,pairs(cqlPoints),
  {title:'CQL',titleY:25,letter:'C',letterX:643,letterY:20.5,xlab:XL,xlabY:274,ylab:YL,ylabX:635});
scatterPanel([992,32,1199,239],COLORS['ReBRAC'],0.32,pairs(rebracPoints),
  {title:'ReBRAC',titleY:25,letter:'D',letterX:952,letterY:20.5,xlab:XL,xlabY:274,ylab:YL,ylabX:942});
scatterPanel([69,322,277,529],COLORS['Diffuser'],0.35,pairs(diffuserPoints),
  {title:'Diffuser',titleY:314,letter:'E',letterX:29,letterY:310,xlab:XL,xlabY:563,ylab:YL,ylabX:18});
scatterPanel([378,322,584,529],COLORS['Inverter'],0.35,
  pairs(inverterInterior).concat(atY(inverterTopX,1),atY(inverterBottomX,-1),atX(inverterLeftY,-1),atX(inverterRightY,1)),
  {title:'Inverter',titleY:314,letter:'F',letterX:337,letterY:310,xlab:XL,xlabY:563,ylab:YL,ylabX:327});

// ---- Panel H ----
function starImage(size,color){const c=document.createElement('canvas');c.width=c.height=size;const g=c.getContext('2d');
  g.fillStyle=color;g.beginPath();for(let i=0;i<10;i++){const r=i%2?size*0.2:size*0.5;const t=-Math.PI/2+i*Math.PI/5;
  g.lineTo(size/2+r*Math.cos(t),size/2+r*Math.sin(t)+size*0.04);}g.closePath();g.fill();return c;}
const satLabelPlacement={'CQL':[0.792,0.949],'Inverter':[0.946,0.858],'Training data':[0.615,0.738],'ReBRAC':[0.723,0.505],
  'IQL':[0.35,0.561],'BC':[0.52,0.503],'TD3+BC':[0.198,0.502],'BC-10%':[0.601,0.378],'AWAC':[0.274,0.333],'Diffuser':[0.154,0.432]};
const satZonePlugin={id:'satZone',beforeDatasetsDraw(chart){
  const xs=chart.scales.x,ys=chart.scales.y,ctx=chart.ctx;
  const cx=xs.getPixelForValue(1),cy=ys.getPixelForValue(1);
  const rx=cx-xs.getPixelForValue(0.5),ry=ys.getPixelForValue(0.5)-cy;
  ctx.save();ctx.fillStyle='rgba(123,47,142,0.12)';
  ctx.beginPath();ctx.moveTo(cx,cy);ctx.ellipse(cx,cy,rx,ry,0,Math.PI/2,Math.PI,false);ctx.closePath();ctx.fill();
  ctx.strokeStyle='#e06c1a';ctx.lineWidth=1.8;ctx.setLineDash([5,3.5]);
  ctx.beginPath();ctx.ellipse(cx,cy,rx,ry,0,Math.PI,Math.PI/2,true);ctx.stroke();ctx.restore();
},afterDatasetsDraw(chart){
  const xs=chart.scales.x,ys=chart.scales.y,ctx=chart.ctx;ctx.save();
  ctx.font='bold 9.5px '+FONT;ctx.textAlign='center';ctx.textBaseline='middle';
  for(const m of satMethods){const p=satLabelPlacement[m];ctx.fillStyle=COLORS[m];
    ctx.fillText(m,xs.getPixelForValue(p[0]),ys.getPixelForValue(p[1]));}
  ctx.restore();
}};
(function(){
  const r=[684,323,892,530], XH=30;
  const xa=axisCommon(),ya=axisCommon();
  const tk=[0,.2,.4,.6,.8,1];
  Object.assign(xa,{type:'linear',min:0,max:1.05,afterFit(s){s.height=XH;},afterBuildTicks(s){s.ticks=tk.map(v=>({value:v}));}});
  xa.ticks.callback=v=>fmt(v,1);xa.ticks.padding=2;
  Object.assign(ya,{type:'linear',min:0,max:1.05,afterFit(s){s.width=YW;},afterBuildTicks(s){s.ticks=tk.map(v=>({value:v}));}});
  ya.ticks.callback=v=>fmt(v,1);ya.ticks.padding=3;
  const styles={'Training data':['rect',8.5],'Inverter':['triangle',6.5]};
  const ds=satMethods.map((m,i)=>{const st=styles[m]||['circle',4.6];
    return {data:[{x:satAvgX[i],y:satAvgY[i]}],backgroundColor:COLORS[m],borderWidth:0,pointStyle:st[0],pointRadius:st[1],pointHoverRadius:st[1]};});
  ds.push({data:[{x:idealPoint[0],y:idealPoint[1]}],pointStyle:starImage(15,'#d62f3a'),pointRadius:7,borderWidth:0});
  new Chart(newCanvas(),{type:'scatter',data:{datasets:ds},
    options:{responsive:false,animation:false,events:[],layout:layoutFor(r,XH),clip:false,
      plugins:{legend:{display:false},tooltip:{enabled:false},
        deco:{title:'Action Saturation',titleY:314,letter:'H',letterX:643,letterY:310,
          xlab:[['avg |','n'],['a','i'],['x','s'],['|','n']],xlabY:562,ylab:[['avg |','n'],['a','i'],['y','s'],['|','n']],ylabX:650}},
      scales:{x:xa,y:ya}},
    plugins:[satZonePlugin,decoPlugin]});
})();

// ---- Panel G ----
const errorBarPlugin={id:'errBars',afterDatasetsDraw(chart){
  const xs=chart.scales.x,ys=chart.scales.y,ctx=chart.ctx;ctx.save();
  ctx.strokeStyle='#111';ctx.lineWidth=1.3;
  speedMean.forEach((v,i)=>{const x=xs.getPixelForValue(i),y1=ys.getPixelForValue(v-speedErr[i]),y2=ys.getPixelForValue(v+speedErr[i]);
    ctx.beginPath();ctx.moveTo(x,y1);ctx.lineTo(x,y2);ctx.moveTo(x-3.5,y1);ctx.lineTo(x+3.5,y1);ctx.moveTo(x-3.5,y2);ctx.lineTo(x+3.5,y2);ctx.stroke();});
  ctx.restore();
}};
(function(){
  const r=[989,323,1199,530], XH=73;
  const xa=axisCommon(),ya=axisCommon();
  Object.assign(xa,{type:'linear',min:-0.89,max:9.89,offset:false,afterFit(s){s.height=XH;},
    afterBuildTicks(s){s.ticks=speedMethods.map((m,i)=>({value:i}));}});
  xa.grid.offset=false;
  xa.ticks.callback=v=>speedMethods[v];xa.ticks.minRotation=45;xa.ticks.maxRotation=45;xa.ticks.padding=2;
  Object.assign(ya,{type:'linear',min:0,max:4.12,afterFit(s){s.width=YW;},
    afterBuildTicks(s){s.ticks=[0,.5,1,1.5,2,2.5,3,3.5,4].map(v=>({value:v}));}});
  ya.ticks.callback=v=>fmt(v,1);ya.ticks.padding=3;
  new Chart(newCanvas(),{type:'bar',
    data:{datasets:[{data:speedMethods.map((m,i)=>({x:i,y:speedMean[i]})),
      backgroundColor:speedMethods.map(m=>rgba(COLORS[m],0.85)),borderColor:'#d4d4d4',borderWidth:1.5,
      barPercentage:0.8,categoryPercentage:1.0}]},
    options:{responsive:false,animation:false,events:[],layout:layoutFor(r,XH),
      plugins:{legend:{display:false},tooltip:{enabled:false},
        deco:{title:'Average Speed to Goal',titleY:314,letter:'G',letterX:952,letterY:310,
          xlab:[],xlabY:0,ylab:[['avg speed','n']],ylabX:962}},
      scales:{x:xa,y:ya}},
    plugins:[errorBarPlugin,decoPlugin]});
})();
</script></body></html>
